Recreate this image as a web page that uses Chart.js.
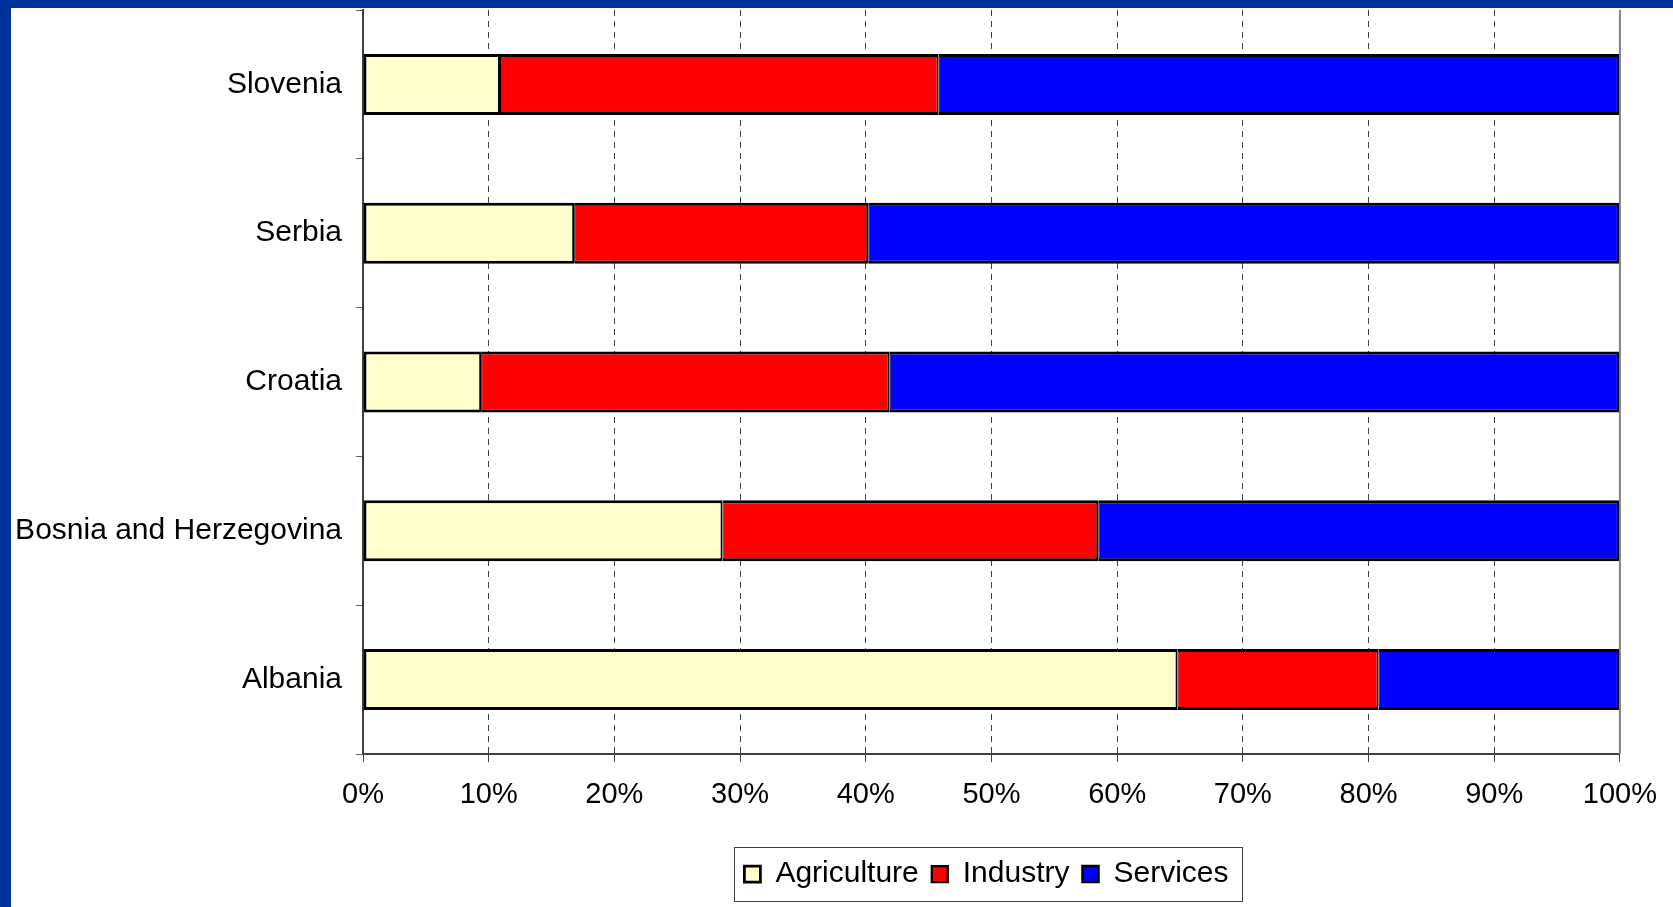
<!DOCTYPE html>
<html>
<head>
<meta charset="utf-8">
<script src="https://cdn.jsdelivr.net/npm/chart.js@4.4.0/dist/chart.umd.min.js"></script>
<style>
html, body { margin: 0; padding: 0; background: #003399; overflow: hidden; }
.frame { position: absolute; left: 11px; top: 8px; width: 1662px; height: 899px; background: #fff; }
</style>
</head>
<body>
<div class="frame"><canvas id="chart"></canvas></div>
<script>
// data (percent of employment)
const countries = ['Slovenia', 'Serbia', 'Croatia', 'Bosnia and Herzegovina', 'Albania']
const agriculture = [10.9, 16.8, 9.4, 28.6, 64.8]
const industry = [34.9, 23.4, 32.5, 29.9, 16.0]
const services = [54.2, 59.8, 58.1, 41.5, 19.2]
const xTicks = [0, 10, 20, 30, 40, 50, 60, 70, 80, 90, 100]

const FONT = "'Liberation Sans', Arial, sans-serif"
Chart.defaults.font.family = FONT
Chart.defaults.color = '#000'

// legend centred under the plot, with a frame round it
const legendFrame = {
  id: 'legendFrame',
  afterLayout(chart) {
    chart.legend.left = chart.chartArea.left
    chart.legend.right = chart.chartArea.right - 10
  },
  afterDraw(chart) {
    const ctx = chart.ctx
    const area = chart.chartArea
    // solid right edge at 100%
    ctx.save()
    ctx.strokeStyle = '#808080'
    ctx.lineWidth = 2
    ctx.beginPath()
    ctx.moveTo(area.right, area.top)
    ctx.lineTo(area.right, area.bottom)
    ctx.stroke()

    const hb = chart.legend.legendHitBoxes
    if (hb && hb.length) {
      const first = hb[0], last = hb[hb.length - 1]
      const cy = first.top + first.height / 2
      const x1 = first.left - 10
      const x2 = last.left + last.width + 14
      ctx.strokeStyle = '#404040'
      ctx.lineWidth = 1
      ctx.strokeRect(Math.round(x1) + 0.5, Math.round(cy - 27) + 0.5, Math.round(x2 - x1), 54)
    }
    ctx.restore()
  }
}

const datasets = [{
  label: 'Agriculture',
  data: agriculture,
  backgroundColor: '#FFFFCC',
  borderColor: '#000',
  borderWidth: { top: 3, bottom: 3, left: 3, right: 2 },
  borderSkipped: false
}, {
  label: 'Industry',
  data: industry,
  backgroundColor: '#FF0000',
  borderColor: '#000',
  borderWidth: { top: 3, bottom: 3, left: 1, right: 2 },
  borderSkipped: false
}, {
  label: 'Services',
  data: services,
  backgroundColor: '#0000FF',
  borderColor: '#000',
  borderWidth: { top: 3, bottom: 3, left: 1, right: 3 },
  borderSkipped: false
}]

const chart = new Chart(document.getElementById('chart'), {
  type: 'bar',
  data: { labels: countries, datasets },
  plugins: [legendFrame],
  options: {
    indexAxis: 'y',
    responsive: true,
    maintainAspectRatio: false,
    animation: false,
    barPercentage: 0.41,
    categoryPercentage: 1,
    layout: { padding: { top: 2, right: 53, bottom: 8, left: 0 } },
    plugins: {
      tooltip: { enabled: false },
      legend: {
        position: 'bottom',
        labels: {
          boxWidth: 16,
          boxHeight: 16,
          padding: 13,
          font: { size: 30 },
          color: '#000'
        }
      }
    },
    scales: {
      x: {
        stacked: true,
        min: 0,
        max: 100,
        afterBuildTicks: s => { s.ticks = xTicks.map(v => ({ value: v })) },
        afterFit: s => { s.height = 92 },
        ticks: {
          padding: 16,
          font: { size: 29 },
          color: '#000',
          callback: v => v + '%'
        },
        grid: {
          color: '#404040',
          lineWidth: 1,
          tickLength: 8,
          tickColor: '#404040',
          tickWidth: 1
        },
        border: { color: '#404040', width: 2, dash: [6, 5] }
      },
      y: {
        stacked: true,
        afterFit: s => {
          s.width = 352
          s.paddingTop = 0
          s.paddingBottom = 0
        },
        ticks: {
          padding: 14,
          font: { size: 30 },
          color: '#000'
        },
        grid: {
          drawOnChartArea: false,
          drawTicks: true,
          tickLength: 7,
          tickColor: '#606060',
          offset: true
        },
        border: { color: '#404040', width: 2 }
      }
    }
  }
})
</script>
</body>
</html>
